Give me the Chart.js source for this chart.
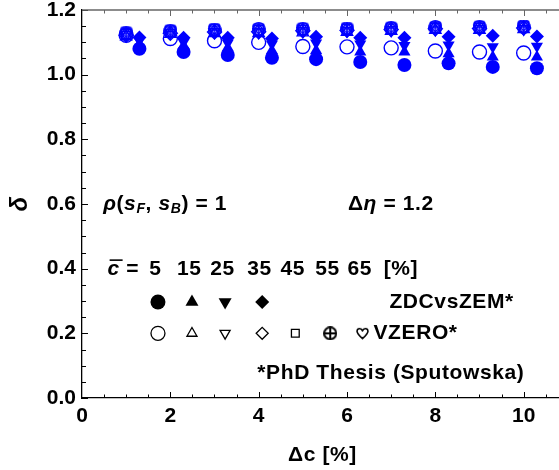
<!DOCTYPE html>
<html>
<head>
<meta charset="utf-8">
<script src="https://cdn.jsdelivr.net/npm/chart.js@4.4.0/dist/chart.umd.min.js"></script>
<style>
  html, body { margin: 0; padding: 0; background: #fff; }
  #wrap { width: 559px; height: 470px; }
</style>
</head>
<body>
<div id="wrap"><canvas id="deltaChart" width="559" height="470"></canvas></div>
<script>
// Delta c [%] values and centrality classes
const deltaC = [1, 2, 3, 4, 5, 6, 7, 8, 9, 10];
const cBar = [5, 15, 25, 35, 45, 55, 65];
const xTicks = [0, 2, 4, 6, 8, 10];
const yTicks = [0, 0.2, 0.4, 0.6, 0.8, 1.0, 1.2];

// ZDCvsZEM (filled markers)
const zdc5 = [1.080, 1.070, 1.061, 1.052, 1.048, 1.039, 1.030, 1.035, 1.024, 1.020];
const zdc15 = [1.095, 1.090, 1.083, 1.075, 1.075, 1.070, 1.070, 1.065, 1.055, 1.055];
const zdc25 = [1.105, 1.100, 1.098, 1.095, 1.098, 1.095, 1.090, 1.092, 1.086, 1.088];
const zdc35 = [1.115, 1.114, 1.114, 1.112, 1.117, 1.114, 1.114, 1.117, 1.120, 1.118];

// VZERO (open markers)
const v0_5 = [1.122, 1.112, 1.105, 1.100, 1.087, 1.086, 1.083, 1.073, 1.070, 1.067];
const v0_15 = [1.118, 1.126, 1.128, 1.128, 1.130, 1.132, 1.135, 1.138, 1.138, 1.140];
const v0_25 = [1.124, 1.130, 1.132, 1.132, 1.135, 1.136, 1.138, 1.140, 1.142, 1.142];
const v0_35 = [1.122, 1.128, 1.132, 1.133, 1.136, 1.137, 1.140, 1.142, 1.143, 1.144];
const v0_45 = [1.126, 1.133, 1.136, 1.137, 1.138, 1.140, 1.142, 1.144, 1.145, 1.146];
const v0_55 = [1.128, 1.135, 1.138, 1.140, 1.141, 1.142, 1.144, 1.146, 1.147, 1.148];
const v0_65 = [1.132, 1.138, 1.142, 1.143, 1.144, 1.145, 1.147, 1.149, 1.150, 1.152];

const BLUE = '#0000ff';
const FONT = '"Liberation Sans", Arial, Helvetica, sans-serif';
const ZDC_SHIFT = 0.3;

// small canvases for the two marker shapes Chart.js doesn't have
function makeOplus(size, lw, color) {
  const cv = document.createElement('canvas');
  cv.width = cv.height = size;
  const g = cv.getContext('2d');
  const m = size / 2;
  g.strokeStyle = color;
  g.lineWidth = lw;
  g.beginPath();
  g.arc(m, m, m - lw / 2, 0, Math.PI * 2);
  g.moveTo(m, lw / 2); g.lineTo(m, size - lw / 2);
  g.moveTo(lw / 2, m); g.lineTo(size - lw / 2, m);
  g.stroke();
  return cv;
}

function makeHeart(size, lw, color) {
  const cv = document.createElement('canvas');
  cv.width = cv.height = size;
  const g = cv.getContext('2d');
  const w = size, h = size;
  g.strokeStyle = color;
  g.lineWidth = lw;
  g.lineJoin = 'round';
  g.beginPath();
  g.moveTo(w / 2, h * 0.9);
  g.bezierCurveTo(w * 0.2, h * 0.62, w * 0.06, h * 0.45, w * 0.08, h * 0.3);
  g.bezierCurveTo(w * 0.1, h * 0.1, w * 0.42, h * 0.05, w / 2, h * 0.3);
  g.bezierCurveTo(w * 0.58, h * 0.05, w * 0.9, h * 0.1, w * 0.92, h * 0.3);
  g.bezierCurveTo(w * 0.94, h * 0.45, w * 0.8, h * 0.62, w / 2, h * 0.9);
  g.closePath();
  g.stroke();
  return cv;
}

const zdcStyles = [
  { pointStyle: 'circle', rotation: 0, radius: 7 },
  { pointStyle: 'triangle', rotation: 0, radius: 7 },
  { pointStyle: 'triangle', rotation: 180, radius: 7 },
  { pointStyle: 'rectRot', rotation: 0, radius: 7 }
];
const v0Styles = [
  { pointStyle: 'circle', rotation: 0, radius: 7 },
  { pointStyle: 'triangle', rotation: 0, radius: 6.5 },
  { pointStyle: 'triangle', rotation: 180, radius: 6.5 },
  { pointStyle: 'rectRot', rotation: 0, radius: 7 },
  { pointStyle: 'rect', rotation: 0, radius: 6.5 },
  { pointStyle: makeOplus(14, 1.6, BLUE), rotation: 0, radius: 7 },
  { pointStyle: makeHeart(13, 1.4, BLUE), rotation: 0, radius: 7 }
];

// legend symbols (black)
const legZdc = [
  { pointStyle: 'circle', rotation: 0, radius: 7.5 },
  { pointStyle: 'triangle', rotation: 0, radius: 7.5 },
  { pointStyle: 'triangle', rotation: 180, radius: 7.5 },
  { pointStyle: 'rectRot', rotation: 0, radius: 7 }
];
const legV0 = [
  { pointStyle: 'circle', rotation: 0, radius: 7 },
  { pointStyle: 'triangle', rotation: 0, radius: 5.8 },
  { pointStyle: 'triangle', rotation: 180, radius: 5.8 },
  { pointStyle: 'rectRot', rotation: 0, radius: 6 },
  { pointStyle: 'rect', rotation: 0, radius: 5.5 },
  { pointStyle: makeOplus(14, 2, '#000'), rotation: 0, radius: 7 },
  { pointStyle: makeHeart(13, 1.6, '#000'), rotation: 0, radius: 7 }
];
const legendCols = [1.72, 2.49, 3.24, 4.08, 4.83, 5.62, 6.35];

function series(xs, ys, shift, st, filled) {
  return {
    data: xs.map((x, i) => ({ x: x + shift, y: ys[i] })),
    pointStyle: st.pointStyle,
    rotation: st.rotation,
    pointRadius: st.radius,
    backgroundColor: filled ? BLUE : 'rgba(0,0,0,0)',
    borderColor: BLUE,
    borderWidth: filled ? 0 : 1.4,
    showLine: false,
    clip: false
  };
}

const v0Vals = [v0_5, v0_15, v0_25, v0_35, v0_45, v0_55, v0_65];
const zdcVals = [zdc5, zdc15, zdc25, zdc35];

const datasets = [];
v0Vals.forEach((v, k) => datasets.push(series(deltaC, v, 0, v0Styles[k], false)));
zdcVals.forEach((v, k) => datasets.push(series(deltaC, v, ZDC_SHIFT, zdcStyles[k], true)));

function runs(ctx, parts, x, y) {
  for (const p of parts) {
    ctx.font = (p.i ? 'italic ' : '') + 'bold ' + (p.s || 21) + 'px ' + FONT;
    ctx.fillText(p.t, x, y + (p.dy || 0));
    x += ctx.measureText(p.t).width;
  }
  return x;
}

// inward ticks, top frame line
const frameTicks = {
  id: 'frameTicks',
  beforeDatasetsDraw(chart) {
    const { ctx, chartArea: a, scales: { x, y } } = chart;
    ctx.save();
    ctx.lineWidth = 1;
    ctx.strokeStyle = '#000';
    ctx.beginPath();
    for (let v = 0; v <= 1.2001; v += 0.05) {
      const py = Math.round(y.getPixelForValue(v)) + 0.5;
      const major = Math.abs(v / 0.2 - Math.round(v / 0.2)) < 1e-6;
      ctx.moveTo(a.left, py);
      ctx.lineTo(a.left + (major ? 6 : 4), py);
    }
    for (let v = 0.5; v <= 10.8; v += 0.5) {
      const px = Math.round(x.getPixelForValue(v)) + 0.5;
      const major = v % 2 === 0;
      ctx.moveTo(px, a.bottom);
      ctx.lineTo(px, a.bottom - (major ? 6 : 3.5));
    }
    ctx.stroke();
    ctx.strokeStyle = '#666';
    ctx.lineWidth = 1.3;
    ctx.beginPath();
    ctx.moveTo(a.left, a.top);
    ctx.lineTo(a.right, a.top);
    ctx.stroke();
    ctx.lineWidth = 1;
    ctx.beginPath();
    for (let v = 0.5; v <= 10.8; v += 0.5) {
      const px = Math.round(x.getPixelForValue(v)) + 0.5;
      const major = v % 2 === 0;
      ctx.moveTo(px, a.top);
      ctx.lineTo(px, a.top + (major ? 6 : 3.5));
    }
    ctx.stroke();
    ctx.restore();
  }
};

// in-plot annotations, legend and axis titles
const notes = {
  id: 'notes',
  afterDraw(chart) {
    const { ctx, chartArea: a, scales: { x, y } } = chart;
    const P = (xv, yv) => [x.getPixelForValue(xv), y.getPixelForValue(yv)];
    ctx.save();
    ctx.letterSpacing = '0.6px';
    ctx.fillStyle = '#000';
    ctx.strokeStyle = '#000';
    ctx.textBaseline = 'middle';
    ctx.textAlign = 'left';

    let [px, py] = P(0.48, 0.6);
    runs(ctx, [
      { t: 'ρ', i: true }, { t: '(' }, { t: 's', i: true }, { t: 'F', i: true, s: 14, dy: 5 },
      { t: ', ' }, { t: 's', i: true }, { t: 'B', i: true, s: 14, dy: 5 }, { t: ') = 1' }
    ], px, py);

    [px, py] = P(6.02, 0.6);
    runs(ctx, [{ t: 'Δ' }, { t: 'η', i: true }, { t: ' = 1.2' }], px, py);

    // c-bar row
    [px, py] = P(0.58, 0.397);
    const endC = runs(ctx, [{ t: 'c', i: true }], px, py);
    ctx.lineWidth = 1.6;
    ctx.beginPath();
    ctx.moveTo(px + 2, py - 9.5);
    ctx.lineTo(px + 15, py - 9.5);
    ctx.stroke();
    runs(ctx, [{ t: ' =' }], endC, py);
    ctx.textAlign = 'center';
    ctx.font = 'bold 21px ' + FONT;
    cBar.forEach((c, i) => {
      const [cx] = P(legendCols[i] - 0.06, 0);
      ctx.fillText(String(c), cx, py);
    });
    ctx.textAlign = 'left';
    [px] = P(6.83, 0);
    ctx.fillText('[%]', px, py);

    // legend symbols
    const H = Chart.helpers;
    legZdc.forEach((st, i) => {
      const [lx, ly] = P(legendCols[i], 0.297);
      H.drawPoint(ctx, { pointStyle: st.pointStyle, rotation: st.rotation, radius: st.radius, borderWidth: 0 }, lx, ly);
    });
    ctx.fillStyle = 'rgba(0,0,0,0)';
    ctx.lineWidth = 1.3;
    legV0.forEach((st, i) => {
      const [lx, ly] = P(legendCols[i], 0.2);
      H.drawPoint(ctx, { pointStyle: st.pointStyle, rotation: st.rotation, radius: st.radius, borderWidth: 1.3 }, lx, ly);
    });

    ctx.fillStyle = '#000';
    ctx.font = 'bold 21px ' + FONT;
    [px, py] = P(6.96, 0.297);
    ctx.fillText('ZDCvsZEM*', px, py);
    [px, py] = P(6.6, 0.2);
    ctx.fillText('VZERO*', px, py);
    [px, py] = P(3.97, 0.077);
    ctx.fillText('*PhD Thesis (Sputowska)', px, py);

    // axis titles
    ctx.textAlign = 'center';
    ctx.font = 'bold 21px ' + FONT;
    ctx.fillText('Δc [%]', (a.left + a.right) / 2 + 2, 455);
    ctx.translate(20, (a.top + a.bottom) / 2);
    ctx.rotate(-Math.PI / 2);
    ctx.font = 'italic bold 24px ' + FONT;
    ctx.fillText('δ', 0, 0);
    ctx.restore();
  }
};

const tickFont = { family: FONT, size: 21, weight: 'bold' };

new Chart(document.getElementById('deltaChart'), {
  type: 'scatter',
  data: { datasets },
  options: {
    responsive: false,
    animation: false,
    layout: { autoPadding: false, padding: { top: 10, right: 0, bottom: 0, left: 0 } },
    plugins: { legend: { display: false }, tooltip: { enabled: false } },
    scales: {
      x: {
        type: 'linear',
        min: 0,
        max: 10.8,
        afterBuildTicks: (s) => { s.ticks = xTicks.map(v => ({ value: v })); },
        afterFit: (s) => { s.height = 72; s.paddingLeft = 0; s.paddingRight = 0; },
        grid: { display: false, drawTicks: false },
        border: { display: true, color: '#000', width: 1.3 },
        ticks: { color: '#000', font: tickFont, padding: 6, maxRotation: 0, callback: v => String(v) }
      },
      y: {
        min: 0,
        max: 1.2,
        afterBuildTicks: (s) => { s.ticks = yTicks.map(v => ({ value: v })); },
        afterFit: (s) => { s.width = 82; s.paddingTop = 0; s.paddingBottom = 0; },
        grid: { display: false, drawTicks: false },
        border: { display: true, color: '#000', width: 1.3 },
        ticks: { color: '#000', font: tickFont, padding: 6, callback: v => v.toFixed(1) }
      }
    }
  },
  plugins: [frameTicks, notes]
});
</script>
</body>
</html>
